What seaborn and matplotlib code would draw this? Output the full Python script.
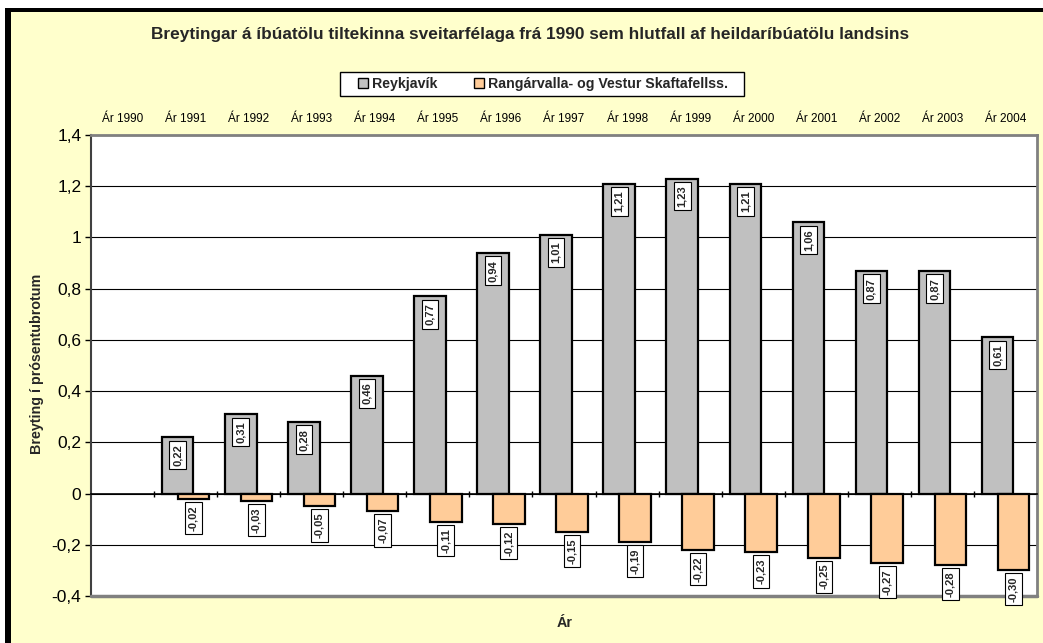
import numpy as np
import pandas as pd
import matplotlib
matplotlib.use('Agg')
import matplotlib.pyplot as plt
from matplotlib.patches import Patch, Rectangle
from matplotlib.ticker import FuncFormatter
import seaborn as sns

# data
years = ['Ár 1990', 'Ár 1991', 'Ár 1992', 'Ár 1993', 'Ár 1994', 'Ár 1995', 'Ár 1996', 'Ár 1997',
         'Ár 1998', 'Ár 1999', 'Ár 2000', 'Ár 2001', 'Ár 2002', 'Ár 2003', 'Ár 2004']
reykjavik = [0, 0.22, 0.31, 0.28, 0.46, 0.77, 0.94, 1.01, 1.21, 1.23, 1.21, 1.06, 0.87, 0.87, 0.61]
rangarvalla = [0, -0.02, -0.03, -0.05, -0.07, -0.11, -0.12, -0.15, -0.19, -0.22, -0.23, -0.25, -0.27, -0.28, -0.30]
series_names = ['Reykjavík', 'Rangárvalla- og Vestur Skaftafellss.']
series_colors = ['#C0C0C0', '#FFCC99']

title = 'Breytingar á íbúatölu tiltekinna sveitarfélaga frá 1990 sem hlutfall af heildaríbúatölu landsins'
ylabel = 'Breyting í prósentubrotum'
xlabel = 'Ár'

sns.set_theme(style='white')
plt.rcParams['font.family'] = ['Liberation Sans', 'DejaVu Sans']

W, H = 1043, 643
fig = plt.figure(figsize=(W / 100, H / 100), dpi=100)
fig.patch.set_facecolor('white')
# outer frame: black band on top/left, pale yellow chart area
fig.patches.append(Rectangle((5 / W, 0), 1, (H - 8) / H, transform=fig.transFigure,
                             facecolor='black', edgecolor='none', zorder=-3))
fig.patches.append(Rectangle((11 / W, 0), 1, (H - 12) / H, transform=fig.transFigure,
                             facecolor='#FFFFCC', edgecolor='none', zorder=-2))
# legend box
fig.patches.append(Rectangle((340 / W, 1 - 96 / H), 404 / W, 24 / H, transform=fig.transFigure,
                             facecolor='white', edgecolor='black', linewidth=1, zorder=-1))

ax = fig.add_axes([91 / W, (H - 596) / H, (1037 - 91) / W, (596 - 135) / H])
ax.set_facecolor('white')

idx = np.arange(len(years))
df_r = pd.DataFrame({'pos': idx - 0.125, 'value': reykjavik})
df_g = pd.DataFrame({'pos': idx + 0.125, 'value': rangarvalla})

sns.barplot(data=df_r, x='pos', y='value', native_scale=True, width=0.5,
            color=series_colors[0], saturation=1, edgecolor='black', linewidth=1.6,
            errorbar=None, ax=ax, zorder=3)
sns.barplot(data=df_g, x='pos', y='value', native_scale=True, width=0.5,
            color=series_colors[1], saturation=1, edgecolor='black', linewidth=1.6,
            errorbar=None, ax=ax, zorder=3)
# zero-valued bars (1990) are not drawn in the original
for p in ax.patches:
    if p.get_height() == 0:
        p.set_linewidth(0)

ax.set_xlim(-0.5, len(years) - 0.5)
ax.set_ylim(-0.4, 1.4)
ax.set_yticks(np.arange(-0.4, 1.41, 0.2))
ax.yaxis.set_major_formatter(FuncFormatter(lambda v, p: f'{round(v, 1):g}'.replace('.', ',')))
ax.grid(axis='y', color='black', linewidth=0.8, zorder=0)
ax.set_axisbelow(True)

# category labels on top, tick marks at boundaries on the zero line
ax.set_xticks(idx)
ax.set_xticklabels(years)
ax.set_xticks(idx[:-1] + 0.5, minor=True)
ax.tick_params(axis='x', which='major', top=True, bottom=False, labeltop=True,
               labelbottom=False, length=0, pad=7, labelsize=8.5, colors='black')
ax.tick_params(axis='x', which='minor', bottom=True, top=False, direction='inout',
               length=5, width=1, color='black')
ax.tick_params(axis='y', left=True, direction='out', length=4, width=1,
               labelsize=12.5, pad=3, colors='black')

for s in ['top', 'right']:
    ax.spines[s].set_color('#808080')
    ax.spines[s].set_linewidth(2)
ax.spines['left'].set_color('#404040')
ax.spines['left'].set_linewidth(1.5)
ax.spines['bottom'].set_position(('data', 0))
ax.spines['bottom'].set_color('black')
ax.spines['bottom'].set_linewidth(1.2)
ax.spines['bottom'].set_zorder(4)
ax.axhline(-0.4, color='#808080', linewidth=2.5, clip_on=False, zorder=5)
ax.set_xlabel('')
ax.set_ylabel('')

# value labels
box = dict(boxstyle='square,pad=0.3', facecolor='white', edgecolor='black', linewidth=0.8)
for i in idx:
    if reykjavik[i] != 0:
        ax.annotate(f'{reykjavik[i]:.2f}'.replace('.', ','), (i - 0.125, reykjavik[i]),
                    xytext=(0, -5), textcoords='offset points', rotation=90,
                    ha='center', va='top', fontsize=8, fontweight='bold', bbox=box, zorder=6)
    if rangarvalla[i] != 0:
        ax.annotate(f'{rangarvalla[i]:.2f}'.replace('.', ','), (i + 0.125, rangarvalla[i]),
                    xytext=(0, -4.5), textcoords='offset points', rotation=90,
                    ha='center', va='top', fontsize=8, fontweight='bold', bbox=box,
                    zorder=6, annotation_clip=False)

fig.text(530 / W, 1 - 34 / H, title, ha='center', va='center', fontsize=12.4, fontweight='bold')
fig.text(37 / W, 1 - 364 / H, ylabel, ha='center', va='center', rotation=90,
         fontsize=10.3, fontweight='bold')
fig.text(565 / W, 1 - 623 / H, xlabel, ha='center', va='center', fontsize=10.3, fontweight='bold')

handles = [Patch(facecolor=c, edgecolor='black', linewidth=1) for c in series_colors]
leg = fig.legend(handles, series_names, loc='center', bbox_to_anchor=(543 / W, 1 - 84 / H),
                 ncol=2, frameon=False, handlelength=0.7,
                 handleheight=0.7, handletextpad=0.3, columnspacing=2.6, borderpad=0.35,
                 prop={'weight': 'bold', 'size': 10.2})

fig.savefig('out.png', dpi=100)
